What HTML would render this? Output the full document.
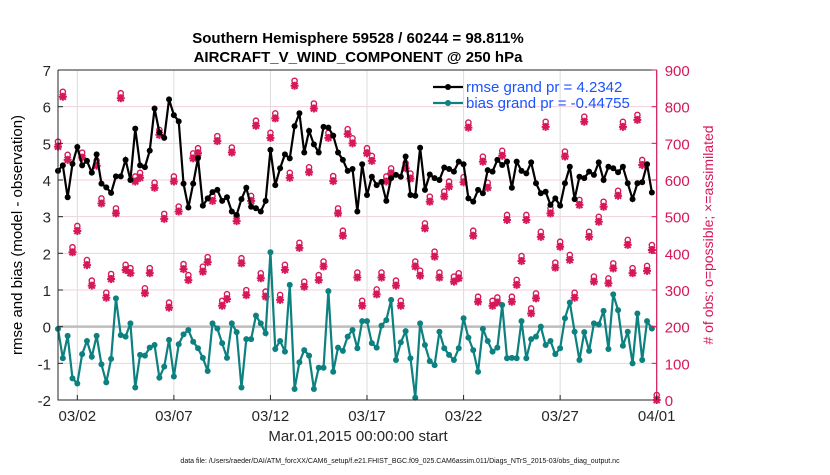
<!DOCTYPE html>
<html><head><meta charset="utf-8"><style>
body{margin:0;background:#fff;width:830px;height:470px;overflow:hidden}
svg{font-family:"Liberation Sans",Arial,sans-serif}
</style></head><body>
<svg id="chart" width="830" height="470" viewBox="0 0 830 470">
<text x="358" y="43" text-anchor="middle" font-size="15" font-weight="bold">Southern Hemisphere 59528 / 60244 = 98.811%</text>
<text x="358" y="62" text-anchor="middle" font-size="15" font-weight="bold">AIRCRAFT_V_WIND_COMPONENT @ 250 hPa</text>
<text transform="translate(22,235) rotate(-90)" text-anchor="middle" font-size="15">rmse and bias (model - observation)</text>
<text transform="translate(713,235) rotate(-90)" text-anchor="middle" font-size="14" fill="#d6175a"># of obs: o=possible; ×=assimilated</text>
<text x="358" y="441" text-anchor="middle" font-size="15" fill="#262626">Mar.01,2015 00:00:00 start</text>
<text x="400" y="463" text-anchor="middle" font-size="7" fill="#111">data file: /Users/raeder/DAI/ATM_forcXX/CAM6_setup/f.e21.FHIST_BGC.f09_025.CAM6assim.011/Diags_NTrS_2015-03/obs_diag_output.nc</text>
<g id="plot"></g>
</svg>
<script>
const xTickLabels=["03/02","03/07","03/12","03/17","03/22","03/27","04/01"];
const xTickDays=[1,6,11,16,21,26,31];
const yTicks=[-2,-1,0,1,2,3,4,5,6,7];
const rTicks=[0,100,200,300,400,500,600,700,800,900];
const rmse=[4.25,4.4,3.53,4.44,4.9,4.4,4.52,4.2,4.7,3.9,3.8,3.65,4.1,4.1,4.55,4.0,5.4,4.4,4.35,4.8,5.95,5.3,5.15,6.2,5.77,5.6,3.9,3.25,3.9,4.6,3.3,3.5,3.67,
3.73,3.43,3.53,3.14,3.05,3.48,3.79,3.27,3.23,3.14,3.43,4.82,3.86,4.32,4.7,4.59,5.47,5.82,4.75,5.34,4.97,4.75,5.45,5.43,5.21,4.75,4.55,4.25,4.3,3.14,4.43,3.59,
4.09,3.86,3.95,3.43,4.05,4.14,4.09,4.64,3.59,3.57,4.88,3.73,4.15,4.05,4.0,4.34,4.3,4.23,4.5,4.43,3.5,3.41,3.73,3.64,4.27,4.23,4.55,4.41,4.5,3.79,
4.5,4.25,4.18,4.48,3.91,3.64,3.68,3.32,3.5,3.3,3.91,4.36,3.48,4.09,4.05,4.23,4.14,4.48,4.0,4.36,4.32,4.21,4.36,3.91,3.48,3.91,3.94,4.43,3.66];
const bias=[-0.06,-0.86,-0.25,-1.41,-1.55,-0.75,-0.39,-0.82,-0.25,-1.03,-1.52,-0.88,0.77,-0.23,-0.27,0.09,-1.66,-0.77,-0.79,-0.57,-0.5,-1.39,-1.09,-0.36,-1.36,-0.48,-0.21,-0.09,-0.41,-0.59,-0.85,-1.21,0.09,
-0.05,-0.45,-0.85,0.09,-0.15,-1.66,-0.34,-0.34,0.3,0.09,-0.18,2.03,-0.61,-0.39,-0.68,1.14,-1.7,-0.97,-0.64,-0.79,-1.7,-1.12,-1.12,0.97,-1.23,-0.57,-0.66,-0.27,-0.09,-0.59,0.15,0.15,
-0.45,-0.57,0.03,0.18,0.73,-0.91,-0.43,-0.12,-0.86,-1.94,0.09,-0.5,-0.94,-1.05,-0.14,-0.59,-0.77,-0.91,-0.59,0.23,-0.3,-0.64,-1.23,-0.06,-0.39,-0.68,-0.57,0.59,-0.86,-0.85,
-0.86,0.15,-0.86,-0.34,-0.27,0.0,-0.5,-0.39,-0.75,-0.59,0.23,0.66,-0.14,-0.91,-0.15,-0.66,0.09,0.06,0.43,-0.61,0.88,0.45,-0.52,-0.14,-1.0,0.36,-0.91,0.15,-0.05];
const assimilated=[691,827,655,403,461,661,368,312,639,536,279,330,509,823,355,346,596,606,291,346,579,723,494,252,596,514,357,327,659,673,350,376,543,
706,257,275,675,488,373,286,543,748,332,282,715,768,273,355,606,857,415,309,621,795,327,364,715,597,509,448,725,700,334,257,673,
652,288,334,596,618,312,257,632,604,364,339,468,541,391,334,555,582,323,332,594,743,448,268,650,579,257,266,666,491,268,
314,379,491,236,277,445,745,509,361,418,664,382,279,532,759,445,323,486,527,318,359,557,745,423,346,764,641,352,409,0];
const NS='http://www.w3.org/2000/svg';
const L=58,R=656.7,T=70,B=400;
const xs=d=>L+(R-L)*d/31;
const yl=v=>B-(v+2)/9*(B-T);
const yr=v=>B-v/900*(B-T);
const g=document.getElementById('plot');
function mk(tag,attrs,parent){const e=document.createElementNS(NS,tag);for(const k in attrs)e.setAttribute(k,attrs[k]);(parent||g).appendChild(e);return e;}
// grid
rTicks.forEach((v,i)=>{if(i>0&&i<rTicks.length-1){const l=mk('line',{x1:L,x2:R,y1:yr(v),y2:yr(v),stroke:'#f2d0dc','stroke-width':1});

}});
xTickDays.forEach(d=>{const l=mk('line',{x1:xs(d),x2:xs(d),y1:T,y2:B,stroke:'#dcdcdc','stroke-width':1});

});
const z=mk('line',{x1:L,x2:R,y1:yl(0),y2:yl(0),stroke:'#bdbdbd','stroke-width':2.5});


// obs counts
const nTimes=assimilated.length;
assimilated.forEach((v,i)=>{const x=xs(i*0.25),y=yr(v);
const c=mk('circle',{cx:x,cy:y-5,r:2.6,fill:'none',stroke:'#d6175a','stroke-width':1.4});


const p=mk('path',{d:`M${x-4},${y}h8M${x},${y-4}v8M${x-3},${y-3}l6,6M${x+3},${y-3}l-6,6`,stroke:'#d6175a','stroke-width':2});

});
function series(vals,color,name){
const pts=vals.map((v,i)=>xs(i*0.25)+','+yl(v)).join(' ');
const pl=mk('polyline',{points:pts,fill:'none',stroke:color,'stroke-width':2.2});


vals.forEach((v,i)=>{const c=mk('circle',{cx:xs(i*0.25),cy:yl(v),r:3,fill:color});

});}
series(bias,'#0d8080','bias');
series(rmse,'#000','rmse');
// axes box
const bx=mk('path',{d:`M${L},${T}H${R}M${L},${T}V${B}H${R}`,stroke:'#262626','stroke-width':1,fill:'none'});


const ra=mk('line',{x1:R,x2:R,y1:T,y2:B,stroke:'#d6175a','stroke-width':1.2});


yTicks.forEach(v=>{mk('line',{x1:L,x2:L+5,y1:yl(v),y2:yl(v),stroke:'#262626'});
const t=mk('text',{x:L-7,y:yl(v)+6,'text-anchor':'end','font-size':15,fill:'#262626'});t.textContent=v;

});
rTicks.forEach(v=>{mk('line',{x1:R-5,x2:R,y1:yr(v),y2:yr(v),stroke:'#d6175a'});
const t=mk('text',{x:R+8,y:yr(v)+6,'font-size':15,fill:'#d6175a'});t.textContent=v;

});
xTickDays.forEach((d,i)=>{mk('line',{x1:xs(d),x2:xs(d),y1:B,y2:B-5,stroke:'#262626'});
const t=mk('text',{x:xs(d),y:B+21,'text-anchor':'middle','font-size':15,fill:'#262626'});t.textContent=xTickLabels[i];

});
// legend
const legend=[['rmse grand pr = 4.2342','#000',87],['bias grand pr = -0.44755','#0d8080',103]];
legend.forEach(([txt,col,y])=>{
const gg=mk('g',{});


mk('line',{x1:433,x2:463,y1:y,y2:y,stroke:col,'stroke-width':2.2},gg);
mk('circle',{cx:448,cy:y,r:3,fill:col},gg);
const t=mk('text',{x:466,y:y+5,'font-size':15,fill:'#1a53ff'},gg);t.textContent=txt;});
</script>
</body></html>
